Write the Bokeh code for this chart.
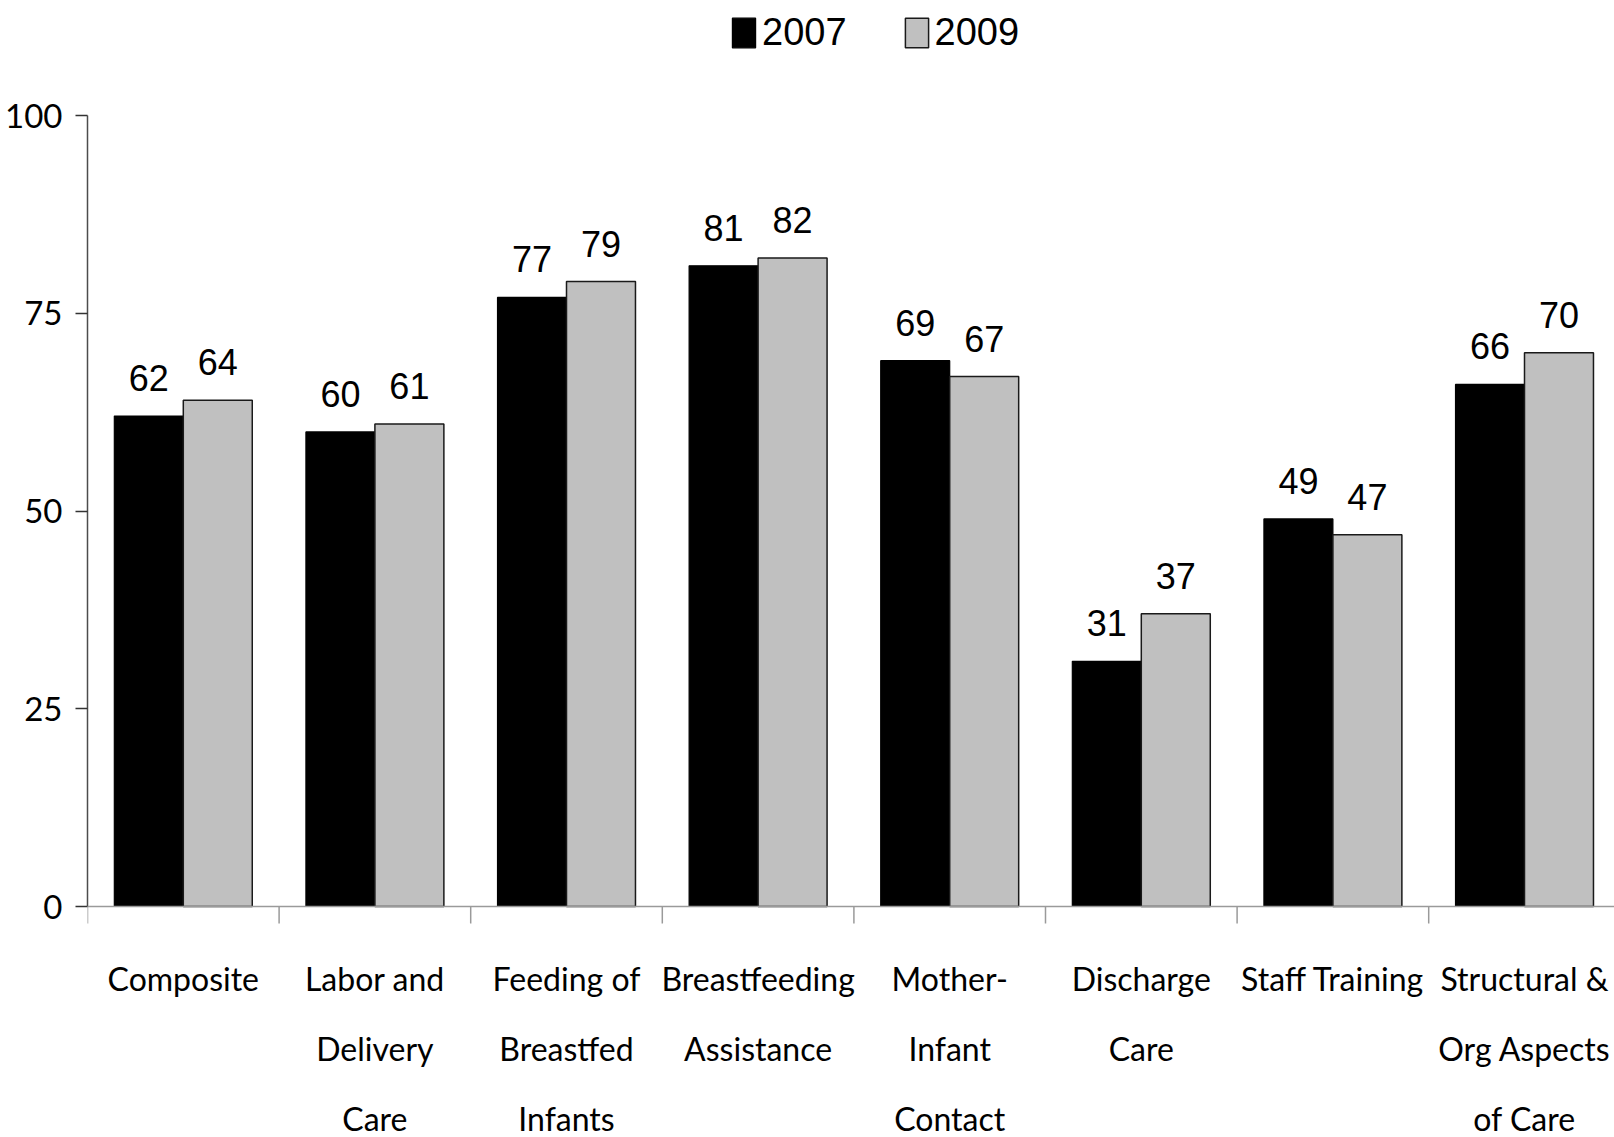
import math
from bokeh.plotting import figure
from bokeh.models import (Range1d, FixedTicker, ColumnDataSource, LabelSet,
                          Legend, LegendItem, Span)
from bokeh.transform import dodge
from bokeh.core.properties import value
from bokeh.embed import file_html
from bokeh.resources import INLINE

# ---------------- data ----------------
categories = [
    "Composite",
    "Labor and\nDelivery\nCare",
    "Feeding of\nBreastfed\nInfants",
    "Breastfeeding\nAssistance",
    "Mother-\nInfant\nContact",
    "Discharge\nCare",
    "Staff Training",
    "Structural &\nOrg Aspects\nof Care",
]
series_names = ["2007", "2009"]
values_2007 = [62, 60, 77, 81, 69, 31, 49, 66]
values_2009 = [64, 61, 79, 82, 67, 37, 47, 70]
y_ticks = [0, 25, 50, 75, 100]

# ---------------- layout / styling ----------------
NUM_FONT = "Liberation Sans"
CAT_FONT = "Lato"
W, H = 1614, 1137
LEFT = 87                 # frame left edge (px)
Y0_PX, Y100_PX = 906, 115  # pixel rows of y=0 and y=100
CAT_PX = 191.6            # width of one category (px)
n = len(categories)

ppu = (Y0_PX - Y100_PX) / 100.0
y_top = 100 + Y100_PX / ppu
y_bot = -(H - Y0_PX) / ppu
x_end = (W - LEFT) / CAT_PX

p = figure(width=W, height=H, output_backend="svg", toolbar_location=None,
           title=None, x_range=Range1d(0, x_end), y_range=Range1d(y_bot, y_top),
           x_axis_location=None,
           min_border_left=LEFT, min_border_right=0, min_border_top=0,
           min_border_bottom=0)
p.outline_line_color = None
p.xgrid.visible = False
p.ygrid.visible = False

src = ColumnDataSource(dict(
    x=[i + 0.5 for i in range(n)],
    v07=values_2007, v09=values_2009,
    t07=[str(v) for v in values_2007], t09=[str(v) for v in values_2009],
))

OFF = 0.18
BW = 0.36
r1 = p.vbar(x=dodge("x", -OFF), top="v07", width=BW, source=src,
            fill_color="#000000", line_color="#000000", line_width=1.2)
r2 = p.vbar(x=dodge("x", OFF), top="v09", width=BW, source=src,
            fill_color="#c0c0c0", line_color="#1a1a1a", line_width=1.5)

# x axis line and category boundary ticks
p.add_layout(Span(location=0, dimension="width", line_color="#9a9a9a",
                  line_width=1.5))
bsrc = ColumnDataSource(dict(x=list(range(n + 1)), y=[0] * (n + 1)))
p.ray(x="x", y="y", source=bsrc, length=17, length_units="screen",
      angle=-math.pi / 2, line_color="#9a9a9a", line_width=1.5)

# value labels
for xo, col, tcol in [(-OFF, "v07", "t07"), (OFF, "v09", "t09")]:
    p.add_layout(LabelSet(x=dodge("x", xo), y=col, text=tcol, source=src,
                          text_align="center", text_baseline="alphabetic",
                          y_offset=25, text_font=value(NUM_FONT),
                          text_font_size="36px", text_color="#000000"))

# category labels (one LabelSet per text line), baselines measured from bottom
split = [c.split("\n") for c in categories]
for k, ys in enumerate([H - 990, H - 1060, H - 1130]):
    lines = [s[k] if len(s) > k else "" for s in split]
    csrc = ColumnDataSource(dict(x=[i + 0.5 for i in range(n)], t=lines))
    p.add_layout(LabelSet(x="x", y=ys, y_units="screen", text="t", source=csrc,
                          text_align="center", text_baseline="alphabetic",
                          text_font=value(CAT_FONT), text_font_size="32px",
                          text_color="#000000"))

# y axis
ya = p.yaxis[0]
ya.bounds = (0, 100)
ya.ticker = FixedTicker(ticks=y_ticks, minor_ticks=[])
ya.axis_line_color = "#4d4d4d"
ya.axis_line_width = 1.5
ya.major_tick_line_color = "#333333"
ya.major_tick_line_width = 1.5
ya.major_tick_in = 0
ya.major_tick_out = 12
ya.minor_tick_line_color = None
ya.major_label_standoff = 13
ya.major_label_text_font = CAT_FONT
ya.major_label_text_font_size = "33px"
ya.major_label_text_color = "#000000"

legend = Legend(items=[LegendItem(label=series_names[0], renderers=[r1]),
                       LegendItem(label=series_names[1], renderers=[r2])],
                orientation="horizontal", location=(642, H - 54),
                glyph_width=29, glyph_height=37, label_height=30,
                label_standoff=4, spacing=55, padding=0, margin=0,
                border_line_color=None, background_fill_alpha=0,
                label_text_font=NUM_FONT, label_text_font_size="38px",
                label_text_color="#000000")
p.add_layout(legend, "center")

open("out.html", "w").write(file_html(p, INLINE))
